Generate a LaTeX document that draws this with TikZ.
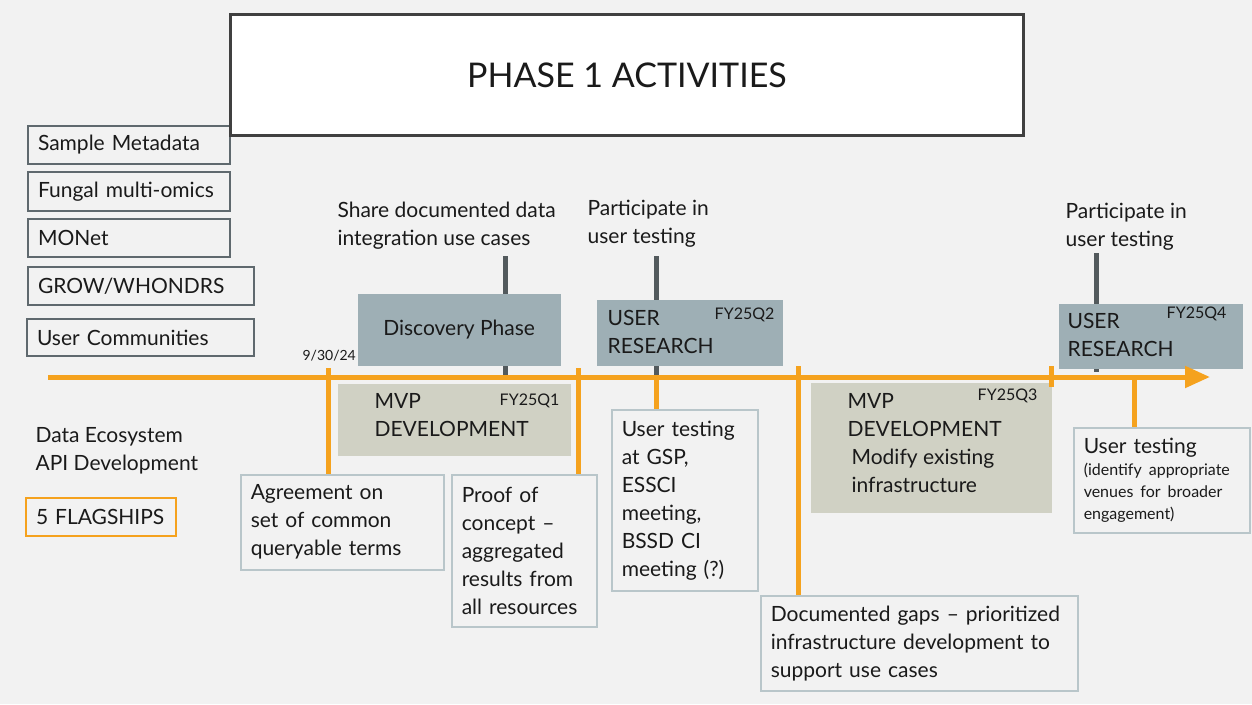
\documentclass[tikz,border=0pt]{standalone}
\usepackage{fontspec}
\setmainfont{Lato}
\usetikzlibrary{arrows.meta}
\definecolor{phbg}{RGB}{242,242,242}
\definecolor{phink}{RGB}{26,26,26}
\definecolor{phorange}{RGB}{245,162,30}
\definecolor{phstem}{RGB}{83,90,93}
\definecolor{phslate}{RGB}{158,175,181}
\definecolor{phkhaki}{RGB}{208,209,196}
\definecolor{phnote}{RGB}{185,198,202}
\definecolor{phsrc}{RGB}{95,105,110}
\definecolor{phtitle}{RGB}{64,64,64}

\begin{document}
\begin{tikzpicture}[x=1pt,y=-1pt,line width=1.2pt,>={Triangle[length=25pt,width=21pt]},
  every node/.style={text=phink,font=\fontsize{21}{28}\selectfont},
  srcbox/.style={draw=phsrc,line width=2pt,fill=phbg,anchor=north west,inner xsep=10pt,inner ysep=0pt,align=left},
  note/.style={draw=phnote,line width=1.5pt,fill=phbg,anchor=north west,inner xsep=10pt,inner ysep=0pt,align=left},
  phasebox/.style={anchor=north west,inner sep=0pt},
  txt/.style={anchor=north west,inner sep=0pt,align=left},
  qtag/.style={anchor=north east,inner sep=0pt,font=\fontsize{16}{18}\selectfont},
  stem/.style={draw=phstem,line width=5pt},
  tick/.style={draw=phorange,line width=5pt}]
  \fill[phbg] (0,0) rectangle (1252,704);
  \useasboundingbox (0,0) rectangle (1252,704);

  \coordinate (a0) at (48,377);
  \coordinate (a1) at (1210,377);
  \coordinate (sA) at (505,256);
  \coordinate (sB) at (656,256);
  \coordinate (sC) at (1096,253);
  \coordinate (tk1) at (328,368);
  \coordinate (tk2) at (578,368);
  \coordinate (tk3) at (798,366);
  \coordinate (tk4) at (1051,366);
  \coordinate (tk5) at (1134,377);

  \draw[stem] (sA) -- (sA |- a0);
  \draw[stem] (sB) -- (sB |- a0);
  \draw[stem] (sC) -- (1096,372);

  \node[srcbox,text width=182pt,minimum height=38pt] (srcmeta) at (27,125) {Sample Metadata};
  \node[srcbox,text width=182pt,minimum height=39pt] (srcfungal) at (27,171) {Fungal multi-omics};
  \node[srcbox,text width=182pt,minimum height=38pt] (srcmonet) at (27,218) {MONet};
  \node[srcbox,text width=206pt,minimum height=38pt] (srcgrow) at (27,266) {GROW/WHONDRS};
  \node[srcbox,text width=207pt,minimum height=37pt] (srcusers) at (26,318) {User Communities};

  \node[draw=phtitle,line width=3pt,fill=white,anchor=north west,minimum width=793pt,minimum height=121pt,
    font=\fontsize{34}{40}\selectfont] (title) at (229,13) {PHASE 1 ACTIVITIES};

  \node[txt] (sharelbl) at (337,201) {Share documented data\\integration use cases};
  \node[txt] (part2lbl) at (587,200) {Participate in\\user testing};
  \node[txt] (part4lbl) at (1065,203) {Participate in\\user testing};
  \node[anchor=south west,inner sep=0pt,font=\fontsize{14}{16}\selectfont] (datelbl) at (302,362) {9/30/24};
  \node[txt] (apilbl) at (35,427) {Data Ecosystem\\API Development};
  \node[draw=phorange,line width=2pt,fill=phbg,anchor=north west,minimum height=38pt,text width=130pt,
    inner xsep=10pt,inner ysep=0pt,align=left] (flag) at (25,497) {5 FLAGSHIPS};

  \node[fill=phslate,anchor=north west,minimum width=203pt,minimum height=72pt] (disc) at (357,293) {Discovery Phase};

  \node[fill=phkhaki,phasebox,minimum width=233pt,minimum height=72pt] (mvp1) at (337,383) {};
  \node[txt] (mvp1txt) at (374,393) {MVP\\DEVELOPMENT};
  \node[qtag] (mvp1tag) at (560,393) {FY25Q1};

  \node[fill=phslate,phasebox,minimum width=186pt,minimum height=66pt] (ur2) at (596,299) {};
  \node[txt] (ur2txt) at (607,310) {USER\\RESEARCH};
  \node[qtag] (ur2tag) at (775,307) {FY25Q2};

  \node[fill=phkhaki,phasebox,minimum width=241pt,minimum height=130pt] (mvp3) at (810,382) {};
  \node[txt] (mvp3txt) at (847,393) {MVP\\DEVELOPMENT\\\hspace*{4pt}Modify existing\\\hspace*{4pt}infrastructure};
  \node[qtag] (mvp3tag) at (1038,388) {FY25Q3};

  \node[fill=phslate,phasebox,minimum width=184pt,minimum height=65pt] (ur4) at (1058,303) {};
  \node[txt] (ur4txt) at (1067,313) {USER\\RESEARCH};
  \node[qtag] (ur4tag) at (1227,306) {FY25Q4};

  \node[note,text width=183pt,minimum height=95pt] (agree) at (240,474) {Agreement on\\set of common\\queryable terms};
  \node[note,text width=125pt,minimum height=152pt] (proof) at (451,474) {Proof of\\concept --\\aggregated\\results from\\all resources};
  \node[note,text width=126pt,minimum height=181pt] (gsp) at (611,409) {User testing\\at GSP,\\ESSCI\\meeting,\\BSSD CI\\meeting (?)};
  \node[note,text width=297pt,minimum height=95pt] (gaps) at (760,595) {Documented gaps -- prioritized\\infrastructure development to\\support use cases};
  \node[note,text width=156pt,minimum height=105pt] (ut4) at (1073,427)
    {User testing\par{\fontsize{16}{22}\selectfont(identify appropriate\newline venues for broader\newline engagement)\par}};

  \draw[phorange,line width=5pt,->] (a0) -- (a1);
  \draw[tick] (tk1) -- (tk1 |- agree.north);
  \draw[tick] (tk2) -- (tk2 |- proof.north);
  \draw[tick] (tk3) -- (tk3 |- gaps.north);
  \draw[tick] (tk4) -- (1051,387);
  \draw[tick] (sB |- a0) -- (sB |- gsp.north);
  \draw[tick] (tk5) -- (tk5 |- ut4.north);
\end{tikzpicture}
\end{document}
